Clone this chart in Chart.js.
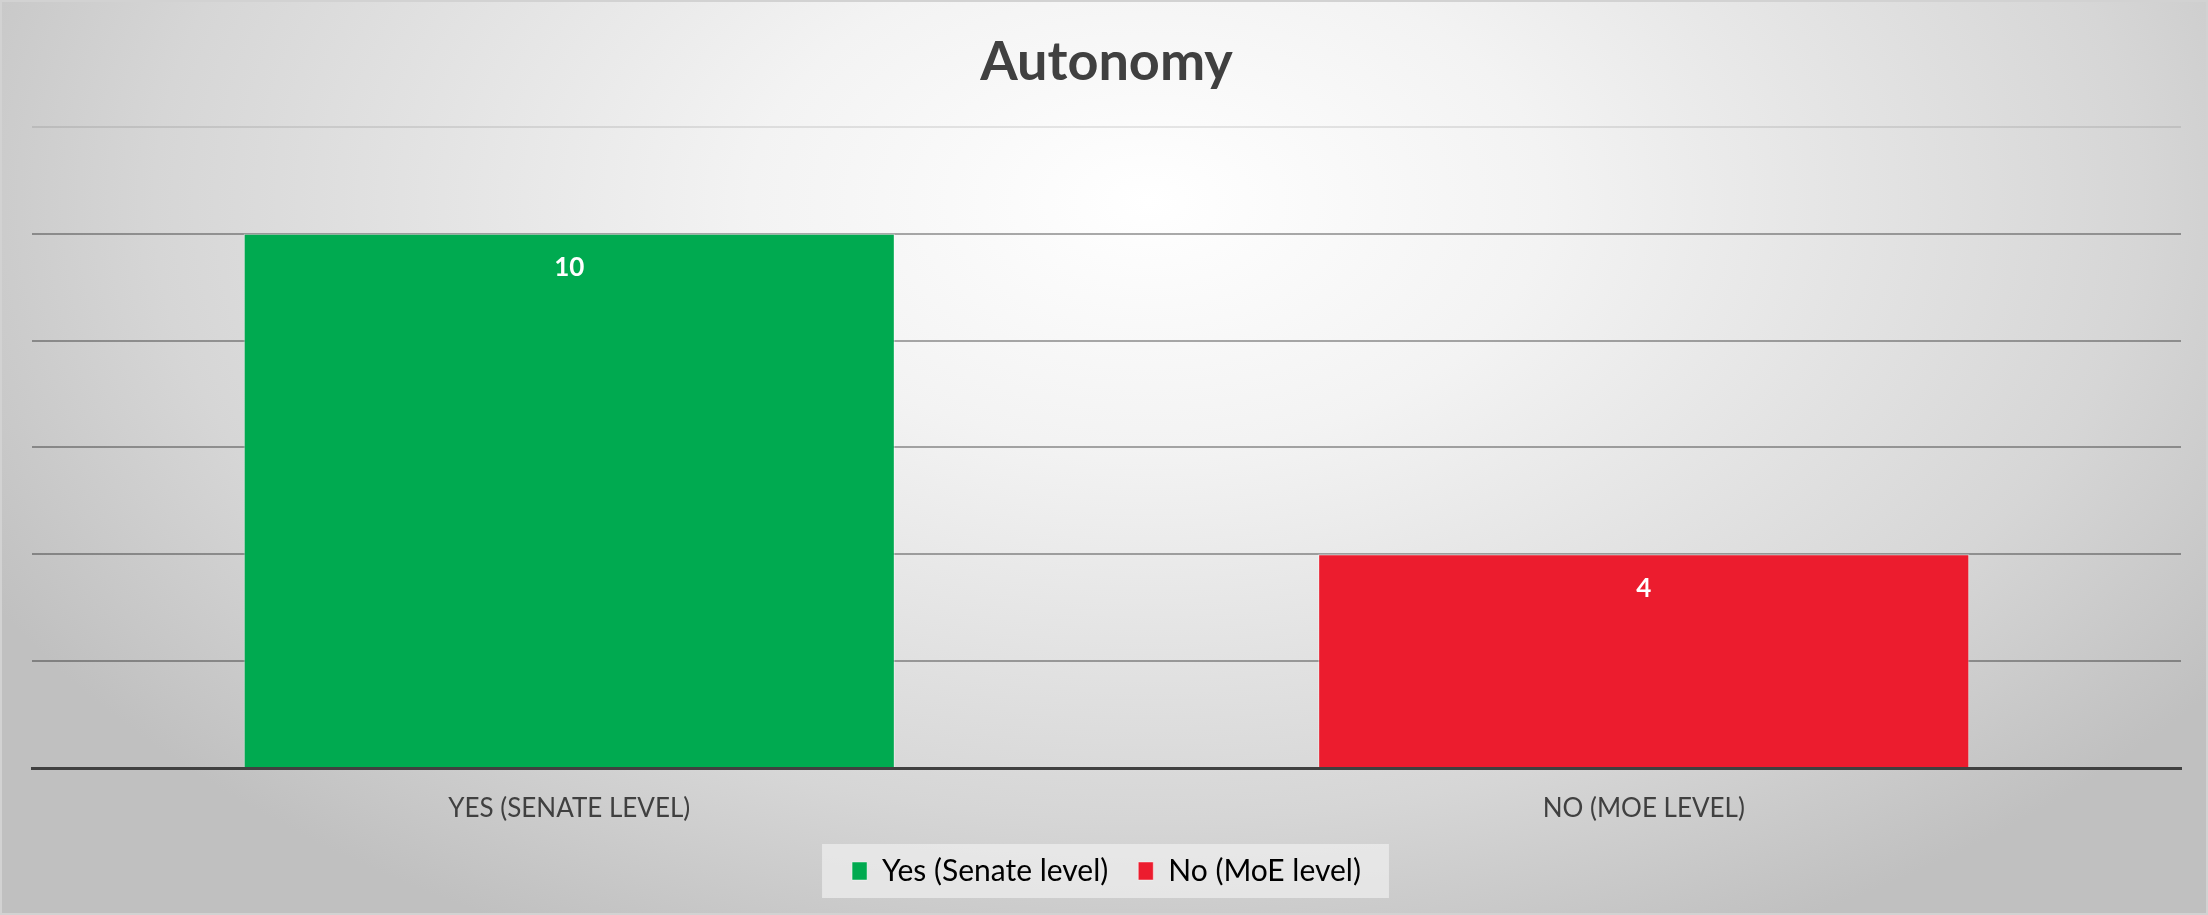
<!DOCTYPE html>
<html>
<head>
<meta charset="utf-8">
<script src="https://cdn.jsdelivr.net/npm/chart.js@4.4.1/dist/chart.umd.min.js"></script>
<style>
  html, body { margin: 0; padding: 0; }
  #wrap {
    width: 2208px;
    height: 915px;
    position: relative;
    background: radial-gradient(ellipse 60% 90% at 52% 22%, #ffffff 0%, #f3f3f3 30%, #d6d6d6 75%, #c0c0c0 100%);
    box-shadow: inset 0 0 0 2px #d2d2d2;
  }
  canvas { position: absolute; left: 0; top: 0; }
</style>
</head>
<body>
<div id="wrap"><canvas id="chart" width="2208" height="915"></canvas></div>
<script>
const categories = ['Yes (Senate level)', 'No (MoE level)'];
const values = [10, 4];
const barColors = ['#00aa50', '#ec1c2e'];
const yTicks = [0, 2, 4, 6, 8, 10, 12];

Chart.defaults.font.family = 'Lato, "Open Sans", sans-serif';
Chart.defaults.color = '#404040';

// grey box behind the legend items
const legendBox = {
  id: 'legendBox',
  beforeDraw(chart) {
    const boxes = chart.legend && chart.legend.legendHitBoxes;
    if (!boxes || !boxes.length) return;
    const left = Math.min(...boxes.map(b => b.left)) - 30;
    const right = Math.max(...boxes.map(b => b.left + b.width)) + 28;
    const cy = boxes[0].top + boxes[0].height / 2;
    const ctx = chart.ctx;
    ctx.save();
    ctx.fillStyle = 'rgba(240,240,240,0.7)';
    ctx.fillRect(left, cy - 27, right - left, 54);
    ctx.restore();
  }
};

// value labels inside the top of each bar
const barLabels = {
  id: 'barLabels',
  afterDatasetsDraw(chart) {
    const ctx = chart.ctx;
    const meta = chart.getDatasetMeta(0);
    ctx.save();
    ctx.fillStyle = '#ffffff';
    ctx.font = 'bold 26px Lato, sans-serif';
    ctx.textAlign = 'center';
    ctx.textBaseline = 'middle';
    meta.data.forEach((bar, i) => {
      ctx.fillText(String(values[i]), bar.x, bar.y + 34);
    });
    ctx.restore();
  }
};

new Chart(document.getElementById('chart'), {
  type: 'bar',
  data: {
    labels: categories,
    datasets: [{
      data: values,
      backgroundColor: barColors,
      borderColor: 'rgba(255,255,255,0.45)',
      borderWidth: 1,
      categoryPercentage: 1,
      barPercentage: 0.606
    }]
  },
  options: {
    responsive: false,
    animation: false,
    layout: { padding: { left: 32, right: 27, top: 0, bottom: 19 } },
    plugins: {
      title: {
        display: true,
        text: 'Autonomy',
        color: '#404040',
        font: { size: 54, weight: 'bold' },
        padding: { top: 30, bottom: 32 }
      },
      legend: {
        position: 'bottom',
        labels: {
          font: { size: 30 },
          color: '#404040',
          boxWidth: 15,
          boxHeight: 18,
          padding: 30,
          generateLabels: () => categories.map((c, i) => ({
            text: c,
            fillStyle: barColors[i],
            strokeStyle: 'rgba(255,255,255,0.45)',
            lineWidth: 1,
            index: i
          }))
        }
      },
      tooltip: { enabled: false }
    },
    scales: {
      x: {
        grid: { display: false, drawTicks: false },
        border: { display: true, color: '#404040', width: 3 },
        afterFit: axis => { axis.height = 58; },
        ticks: {
          color: '#404040',
          font: { size: 26 },
          padding: 25,
          callback: function(v) { return this.getLabelForValue(v).toUpperCase(); }
        }
      },
      y: {
        min: yTicks[0],
        max: yTicks[yTicks.length - 1],
        afterBuildTicks: axis => { axis.ticks = yTicks.map(v => ({ value: v })); },
        border: { display: false },
        grid: {
          drawTicks: false,
          lineWidth: 2,
          color: ctx => ctx.tick.value === 12 ? 'rgba(0,0,0,0.09)' : 'rgba(0,0,0,0.33)'
        },
        ticks: { display: false }
      }
    }
  },
  plugins: [legendBox, barLabels]
});
</script>
</body>
</html>
